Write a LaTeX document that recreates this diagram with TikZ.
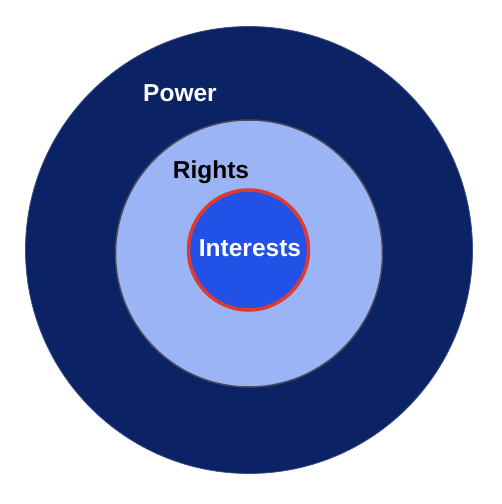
\documentclass[tikz,border=0pt]{standalone}
\usepackage{fontspec}
\setmainfont{Liberation Sans}
\definecolor{navy}{HTML}{0B2265}
\definecolor{paleblue}{HTML}{9AB4F5}
\definecolor{midblue}{HTML}{2251E8}
\definecolor{ringred}{HTML}{E03A2E}
\definecolor{ringgray}{HTML}{4A4A5A}
\begin{document}
\begin{tikzpicture}[x=1pt, y=-1pt,
    ring/.style={circle, inner sep=0pt, outer sep=0pt},
    label/.style={font=\fontsize{24.5}{28}\selectfont\bfseries, anchor=base, inner sep=0pt}]
  \useasboundingbox (0,0) rectangle (502,504);
  \node[ring, fill=navy, draw=navy!80!white, line width=0.8pt, minimum size=447pt] (power) at (249,250) {};
  \node[ring, fill=paleblue, draw=ringgray, line width=1.5pt, minimum size=267pt] (rights) at (249,253.5) {};
  \node[ring, fill=midblue, draw=ringred, line width=3.5pt, minimum size=120pt] (interests) at (248.5,250) {};
  \node[label, text=white] (powertxt) at (180,101.5) {Power};
  \node[label, text=black] (rightstxt) at (211,178) {Rights};
  \node[label, text=white] (intereststxt) at (250,256) {Interests};
\end{tikzpicture}
\end{document}
